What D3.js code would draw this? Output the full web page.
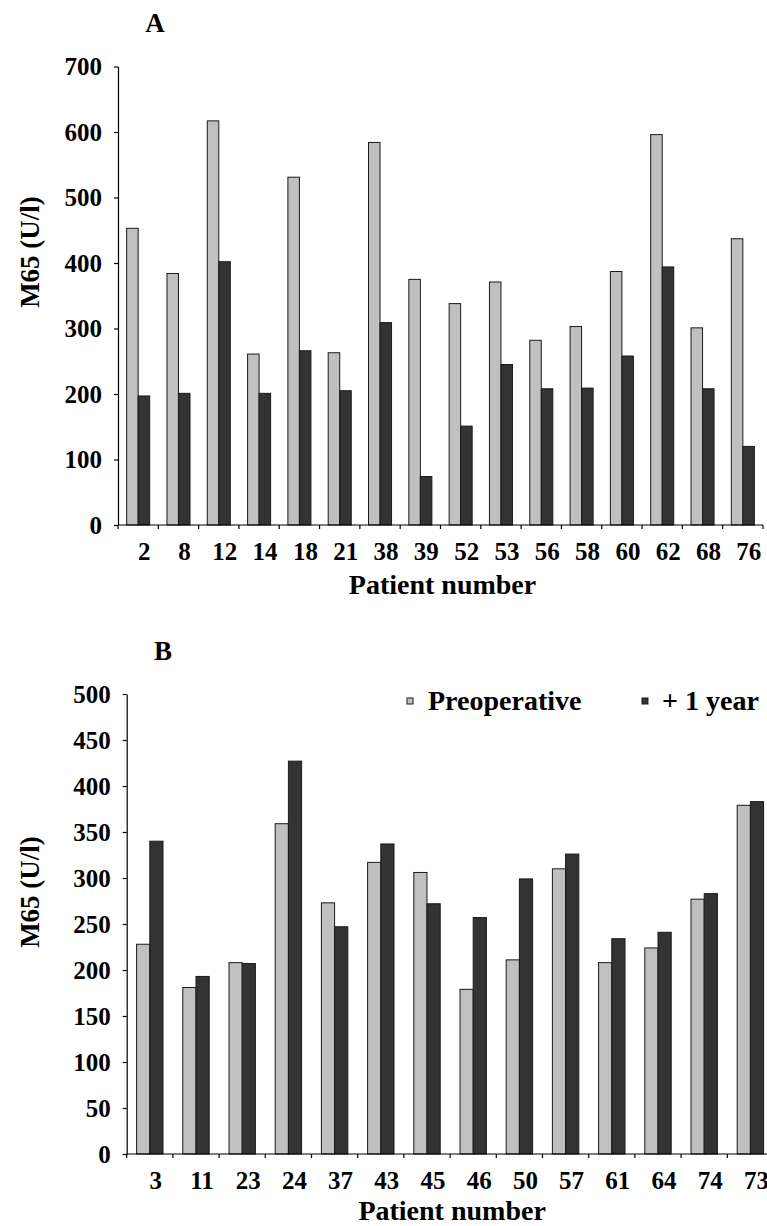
<!DOCTYPE html>
<html>
  <head>
    <meta charset="utf-8" />
    <title>M65 per patient</title>
    <script src="https://d3js.org/d3.v7.min.js"></script>
    <style>
      body {
        margin: 0;
        background: #fff;
      }
      .bar {
        stroke: #1a1a1a;
        stroke-width: 1;
      }
      .axis path,
      .axis line {
        stroke: #000;
        stroke-width: 1.2;
      }
    </style>
  </head>
  <body>
    <svg width="767" height="1226"></svg>
    <script>
      // 数据
      const series = ["Preoperative", "+ 1 year"];
      const colors = ["#c0c0c0", "#333333"];

      const patientsA = ["2", "8", "12", "14", "18", "21", "38", "39", "52", "53", "56", "58", "60", "62", "68", "76"];
      const preA = [453, 384, 617, 261, 531, 263, 584, 375, 338, 371, 282, 303, 387, 596, 301, 437];
      const postA = [197, 201, 402, 201, 266, 205, 309, 74, 151, 245, 208, 209, 258, 394, 208, 120];
      const ticksA = [0, 100, 200, 300, 400, 500, 600, 700];

      const patientsB = ["3", "11", "23", "24", "37", "43", "45", "46", "50", "57", "61", "64", "74", "73"];
      const preB = [228, 181, 208, 359, 273, 317, 306, 179, 211, 310, 208, 224, 277, 379];
      const postB = [340, 193, 207, 427, 247, 337, 272, 257, 299, 326, 234, 241, 283, 383];
      const ticksB = [0, 50, 100, 150, 200, 250, 300, 350, 400, 450, 500];

      const FONT = "'Liberation Serif', 'Times New Roman', 'DejaVu Serif', serif";
      const svg = d3.select("svg");

      drawPanel({
        letter: "A",
        letterPos: [155, 32],
        cats: patientsA,
        values: [preA, postA],
        ticks: ticksA,
        x0: 118,
        x1: 763,
        yTop: 66.5,
        yBottom: 525,
        yLabelPos: [30, 252],
        xLabelY: 594,
        legend: false,
      });

      drawPanel({
        letter: "B",
        letterPos: [163, 660],
        cats: patientsB,
        values: [preB, postB],
        ticks: ticksB,
        x0: 126.7,
        x1: 126.7 + 14 * 46.2,
        yTop: 694,
        yBottom: 1154,
        yLabelPos: [30, 892],
        xLabelY: 1220,
        legend: true,
      });

      // 统一字体
      svg.selectAll("text").attr("font-family", FONT).style("font-family", FONT).style("font-weight", "bold").attr("fill", "#000");

      function drawPanel(cfg) {
        const g = svg.append("g");
        const ymax = cfg.ticks[cfg.ticks.length - 1];

        const x = d3.scaleBand().domain(cfg.cats).range([cfg.x0, cfg.x1]).padding(0);
        const xs = d3
          .scaleBand()
          .domain(series)
          .range([0, x.bandwidth()])
          .paddingInner(0)
          .paddingOuter(0.75);
        const y = d3.scaleLinear().domain([0, ymax]).range([cfg.yBottom, cfg.yTop]);

        // 柱子
        const rows = cfg.cats.map((c, i) => ({ cat: c, vals: series.map((s, j) => ({ s, j, v: cfg.values[j][i] })) }));
        g.selectAll(".grp")
          .data(rows)
          .enter()
          .append("g")
          .attr("transform", (d) => `translate(${x(d.cat)},0)`)
          .selectAll("rect")
          .data((d) => d.vals)
          .enter()
          .append("rect")
          .attr("class", "bar")
          .attr("x", (d) => xs(d.s))
          .attr("y", (d) => y(d.v))
          .attr("width", xs.bandwidth())
          .attr("height", (d) => y(0) - y(d.v))
          .attr("fill", (d) => colors[d.j]);

        // y 轴
        g.append("g")
          .attr("class", "axis")
          .attr("transform", `translate(${cfg.x0},0)`)
          .call(d3.axisLeft(y).tickValues(cfg.ticks).tickSize(4).tickSizeOuter(0).tickPadding(12))
          .call((a) => a.selectAll("text").style("font-size", "25px"));

        // x 轴（刻度在类别边界）
        const xa = g.append("g").attr("class", "axis");
        xa.append("line")
          .attr("x1", cfg.x0)
          .attr("x2", cfg.x1)
          .attr("y1", y(0))
          .attr("y2", y(0));
        const bounds = cfg.cats.map((c) => x(c)).concat([cfg.x1]);
        xa.selectAll(".tk")
          .data(bounds)
          .enter()
          .append("line")
          .attr("x1", (d) => d)
          .attr("x2", (d) => d)
          .attr("y1", y(0))
          .attr("y2", y(0) + 4);
        g.selectAll(".xl")
          .data(cfg.cats)
          .enter()
          .append("text")
          .attr("x", (d) => x(d) + x.bandwidth() / 2 + 6)
          .attr("y", y(0) + 35)
          .attr("text-anchor", "middle")
          .style("font-size", "25px")
          .text((d) => d);

        // 标题
        g.append("text")
          .attr("x", cfg.letterPos[0])
          .attr("y", cfg.letterPos[1])
          .attr("text-anchor", "middle")
          .style("font-size", "27px")
          .text(cfg.letter);

        g.append("text")
          .attr("x", (cfg.x0 + cfg.x1) / 2 + 2)
          .attr("y", cfg.xLabelY)
          .attr("text-anchor", "middle")
          .style("font-size", "28px")
          .text("Patient number");

        g.append("text")
          .attr("transform", `translate(${cfg.yLabelPos[0]},${cfg.yLabelPos[1]}) rotate(-90)`)
          .attr("text-anchor", "middle")
          .attr("dy", "0.35em")
          .style("font-size", "27px")
          .text("M65 (U/l)");

        if (cfg.legend) {
          const items = [
            { s: series[0], x: 407, tx: 428 },
            { s: series[1], x: 642, tx: 662 },
          ];
          const lg = g.selectAll(".lg").data(items).enter().append("g");
          lg.append("rect")
            .attr("class", "bar")
            .attr("x", (d) => d.x)
            .attr("y", 698)
            .attr("width", 6)
            .attr("height", 6)
            .attr("fill", (d, i) => colors[i]);
          lg.append("text")
            .attr("x", (d) => d.tx)
            .attr("y", 710)
            .style("font-size", "28px")
            .text((d) => d.s);
        }
      }
    </script>
  </body>
</html>
